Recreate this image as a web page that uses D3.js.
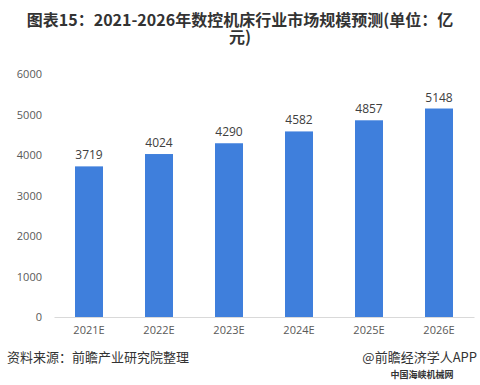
<!DOCTYPE html>
<html><head><meta charset="utf-8">
<script src="https://cdn.jsdelivr.net/npm/d3@7"></script>
<style>body{margin:0;background:#fff;}svg{display:block;font-family:"Noto Sans CJK SC","Microsoft YaHei",sans-serif;}</style>
</head><body>
<script>
const categories = ["2021E","2022E","2023E","2024E","2025E","2026E"];
const values = [3719,4024,4290,4582,4857,5148];
const yTicks = [0,1000,2000,3000,4000,5000,6000];
const titleLines = ["图表15：2021-2026年数控机床行业市场规模预测(单位：亿","元)"];

const W=480,H=385;
const svg=d3.select("body").append("svg").attr("width",W).attr("height",H);

const x=d3.scaleBand().domain(categories).range([54,474]).paddingInner(0.6).paddingOuter(0.3);
const y=d3.scaleLinear().domain([0,6000]).range([317,74]);

const title=svg.append("text").attr("text-anchor","middle")
  .attr("font-size",16).attr("font-weight","bold").attr("fill","#333");
title.selectAll("tspan").data(titleLines).join("tspan")
  .attr("x",240).attr("y",(d,i)=>26+i*17).text(d=>d);

const ya=svg.append("g").attr("transform","translate(42,0)")
  .call(d3.axisLeft(y).tickValues(yTicks).tickSize(0).tickPadding(0).tickFormat(d3.format("d")));
ya.select(".domain").remove();
ya.selectAll("text").attr("fill","#595959").attr("font-size",11).attr("font-family","'Open Sans','Noto Sans',sans-serif");

svg.append("g").selectAll("rect").data(values).join("rect")
  .attr("x",(d,i)=>x(categories[i])).attr("width",x.bandwidth())
  .attr("y",d=>y(d)).attr("height",d=>y(0)-y(d)).attr("fill","#3f7fdc");

svg.append("g").selectAll("text").data(values).join("text")
  .attr("x",(d,i)=>x(categories[i])+x.bandwidth()/2).attr("y",d=>y(d)-7)
  .attr("text-anchor","middle").attr("font-size",12).attr("fill","#404040")
  .attr("font-family","'Open Sans','Noto Sans',sans-serif").text(d=>d);

const xa=svg.append("g").attr("transform","translate(0,317)")
  .call(d3.axisBottom(x).tickSize(0).tickPadding(9));
xa.select(".domain").attr("stroke","#d9d9d9");
xa.selectAll("text").attr("fill","#595959").attr("font-size",11).attr("font-family","'Open Sans','Noto Sans',sans-serif");

svg.append("text").attr("x",7).attr("y",362).attr("font-size",13).attr("fill","#333").text("资料来源：前瞻产业研究院整理");
svg.append("text").attr("x",477).attr("y",362).attr("text-anchor","end").attr("font-size",13).attr("fill","#333").text("@前瞻经济学人APP");
svg.append("text").attr("x",422).attr("y",378).attr("text-anchor","middle").attr("font-size",9).attr("font-weight","bold").attr("fill","#333").text("中国海峡机械网");
</script>
</body></html>
